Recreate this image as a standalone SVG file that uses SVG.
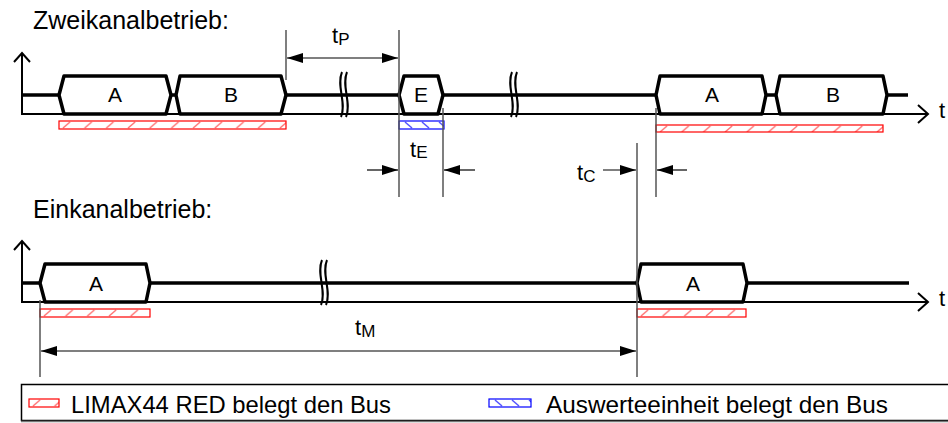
<svg xmlns="http://www.w3.org/2000/svg" width="948" height="423" viewBox="0 0 948 423">
<style>
text{font-family:"Liberation Sans",Arial,sans-serif;fill:#000}
.title{font-size:25px}
.lbl{font-size:21px;text-anchor:middle}
.t{font-size:22px}
.sub{font-size:17px}
.leg{font-size:24px}
.sig{fill:none;stroke:#000;stroke-width:3.5}
.box{fill:#fff;stroke:#000;stroke-width:3.5;stroke-linejoin:round}
.axis{fill:none;stroke:#000;stroke-width:2}
.brk{fill:none;stroke:#000;stroke-width:2}
.ref{fill:none;stroke:#555;stroke-width:1.5}
.dim{fill:none;stroke:#000;stroke-width:1.2}
.red{fill:url(#hr);stroke:#f00;stroke-width:1.2}
.blue{fill:url(#hb);stroke:#00f;stroke-width:1.2}
</style>
<defs>
<pattern id="hr" patternUnits="userSpaceOnUse" width="21.7" height="8">
<rect width="21.7" height="8" fill="#fff"/>
<path d="M4,7 L11,1" stroke="#f77" stroke-width="1.6"/>
</pattern>
<pattern id="hb" patternUnits="userSpaceOnUse" width="17" height="8">
<rect width="17" height="8" fill="#fff"/>
<path d="M6,1 L13,7" stroke="#55f" stroke-width="1.6"/>
</pattern>
<marker id="ah" markerUnits="userSpaceOnUse" markerWidth="16" markerHeight="10" refX="16" refY="5" orient="auto-start-reverse">
<path d="M0,0 L16,5 L0,10 Z" fill="#000"/>
</marker>
</defs>

<g id="titles">
<text class="title" x="33" y="29">Zweikanalbetrieb:</text>
<text class="title" x="33" y="218">Einkanalbetrieb:</text>
</g>

<g id="axes">
<path class="axis" d="M22,53 V114 H928"/>
<path class="axis" d="M14,62 L22,53 L30,62"/>
<path class="axis" d="M918,105 L928,114 L918,123"/>
<text class="t" x="939" y="118">t</text>
<path class="axis" d="M22,241 V302 H928"/>
<path class="axis" d="M14,250 L22,241 L30,250"/>
<path class="axis" d="M918,293 L928,302 L918,311"/>
<text class="t" x="939" y="306">t</text>
</g>

<g id="signals">
<path class="sig" d="M22,95 H908"/>
<path class="sig" d="M22,283 H909"/>
</g>

<g id="breaks">
<path class="brk" d="M342,72 C336,86 347,103 341,117 M347,72 C341,86 352,103 346,117"/>
<path class="brk" d="M512,72 C506,86 517,103 511,117 M517,72 C511,86 522,103 516,117"/>
<path class="brk" d="M322,260 C316,274 327,291 321,305 M327,260 C321,274 332,291 326,305"/>
</g>

<g id="node-A1">
<path class="box" d="M59,95 L64,76 H166 L171,95 L166,114 H64 Z"/>
<text class="lbl" x="115" y="102">A</text>
</g>
<g id="node-B1">
<path class="box" d="M176,95 L180,76 H281 L286,95 L281,114 H180 Z"/>
<text class="lbl" x="231" y="102">B</text>
</g>
<g id="node-E">
<path class="box" d="M399,95 L404,76 H438 L443,95 L438,114 H404 Z"/>
<text class="lbl" x="421" y="102">E</text>
</g>
<g id="node-A2">
<path class="box" d="M656,95 L660,76 H762 L766,95 L762,114 H660 Z"/>
<text class="lbl" x="712" y="102">A</text>
</g>
<g id="node-B2">
<path class="box" d="M776,95 L780,76 H883 L887,95 L883,114 H780 Z"/>
<text class="lbl" x="833" y="102">B</text>
</g>
<g id="node-A3">
<path class="box" d="M40,283 L45,264 H146 L150,283 L146,302 H45 Z"/>
<text class="lbl" x="96" y="291">A</text>
</g>
<g id="node-A4">
<path class="box" d="M637,283 L641,264 H743 L747,283 L743,302 H641 Z"/>
<text class="lbl" x="693" y="291">A</text>
</g>

<g id="bus-bars">
<rect class="red" transform="translate(59,121)" x="0" y="0" width="227" height="8"/>
<rect class="blue" transform="translate(399,121)" x="0" y="0" width="45" height="8"/>
<rect class="red" transform="translate(656,125)" x="0" y="0" width="227" height="7"/>
<rect class="red" transform="translate(40,309)" x="0" y="0" width="110" height="8"/>
<rect class="red" transform="translate(637,309)" x="0" y="0" width="109" height="8"/>
</g>

<g id="connectors">
<path class="ref" d="M286,30 V80"/>
<path class="ref" d="M399,30 V197"/>
<path class="ref" d="M443,108 V197"/>
<path class="ref" d="M656,108 V197"/>
<path class="ref" d="M637,143 V377"/>
<path class="ref" d="M40,300 V377"/>
<path class="dim" d="M287,58 H398" marker-start="url(#ah)" marker-end="url(#ah)"/>
<path class="dim" d="M367,170 H398" marker-end="url(#ah)"/>
<path class="dim" d="M475,170 H444" marker-end="url(#ah)"/>
<path class="dim" d="M603,170 H636" marker-end="url(#ah)"/>
<path class="dim" d="M687,170 H657" marker-end="url(#ah)"/>
<path class="dim" d="M41,351 H636" marker-start="url(#ah)" marker-end="url(#ah)"/>
</g>

<g id="dim-labels">
<text class="t" x="332" y="43">t<tspan class="sub" dy="2">P</tspan></text>
<text class="t" x="410" y="157">t<tspan class="sub" dy="1">E</tspan></text>
<text class="t" x="577" y="180">t<tspan class="sub" dy="2">C</tspan></text>
<text class="t" x="355" y="335">t<tspan class="sub" dy="2">M</tspan></text>
</g>

<g id="legend">
<rect x="21.5" y="384.5" width="940" height="36" fill="#fff" stroke="#000" stroke-width="1.5"/>
<path d="M21,421.5 H948" stroke="#777" stroke-width="1.5"/>
<rect class="red" transform="translate(29,399)" x="0" y="0" width="30" height="8"/>
<text class="leg" x="71" y="413" textLength="320" lengthAdjust="spacingAndGlyphs">LIMAX44 RED belegt den Bus</text>
<rect class="blue" transform="translate(489,399)" x="0" y="0" width="42" height="8"/>
<text class="leg" x="546" y="413" textLength="342" lengthAdjust="spacingAndGlyphs">Auswerteeinheit belegt den Bus</text>
</g>
</svg>
